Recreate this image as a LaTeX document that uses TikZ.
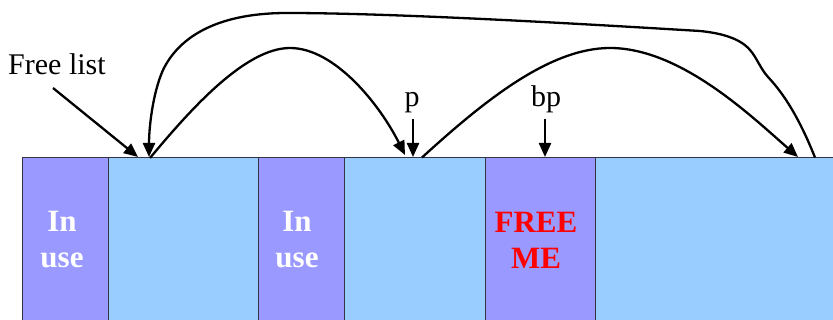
\documentclass[tikz,border=0pt]{standalone}
\usepackage{fontspec}
\setmainfont{Liberation Serif}
\usetikzlibrary{arrows.meta}
\definecolor{usedc}{HTML}{9999FF}
\definecolor{freec}{HTML}{99CCFF}
\definecolor{edgec}{HTML}{333344}
\tikzset{
  blk/.style={draw=edgec, line width=1pt, anchor=north west, minimum height=200pt, inner sep=0pt, outer sep=0pt},
  usedblk/.style={blk, fill=usedc},
  freeblk/.style={blk, fill=freec},
  intext/.style={anchor=base, inner sep=0pt, font=\bfseries\fontsize{31}{36}\selectfont, text=white},
  redtext/.style={intext, text=red},
  lbl/.style={inner sep=0pt, font=\fontsize{30}{34}\selectfont},
  arr/.style={line width=2.3pt, -{Triangle[length=14pt,width=12pt]}},
}
\begin{document}
\begin{tikzpicture}[x=1pt,y=-1pt]
\useasboundingbox (0,0) rectangle (833,320);
\clip (0,0) rectangle (833,320);
% memory blocks
\node[usedblk, minimum width=86pt] (u1) at (22,157.5) {};
\node[freeblk, minimum width=150pt] (f1) at (108,157.5) {};
\node[usedblk, minimum width=86pt] (u2) at (258,157.5) {};
\node[freeblk, minimum width=141pt] (f2) at (344,157.5) {};
\node[usedblk, minimum width=110pt] (fm) at (485,157.5) {};
\node[freeblk, minimum width=250pt] (f3) at (595,157.5) {};
% texts in blocks
\node[intext] (u1a) at (62,231.7) {In};
\node[intext] (u1b) at (62,268) {use};
\node[intext] (u2a) at (297,231.7) {In};
\node[intext] (u2b) at (297,268) {use};
\node[redtext] (fma) at (536,232.7) {FREE};
\node[redtext] (fmb) at (536,269) {ME};
% labels
\node[lbl, anchor=base west] (fl) at (8,75) {Free list};
\node[lbl, anchor=base] (plab) at (412,107) {p};
\node[lbl, anchor=base] (bplab) at (546,107) {bp};
% anchor points on top edge
\coordinate (flstart) at (53,88);
\coordinate (flend) at (138,157);
\coordinate (ptop) at (413,119);
\coordinate (pend) at (413,157);
\coordinate (bptop) at (545,119);
\coordinate (bpend) at (545,157);
\coordinate (c1s) at (815,157.5);
\coordinate (c1e) at (149,157);
\coordinate (c2s) at (150,158);
\coordinate (c2e) at (405,155);
\coordinate (c3s) at (422,157.5);
\coordinate (c3e) at (798,157);
% pointers
\draw[arr] (flstart) -- (flend);
\draw[arr] (ptop) -- (pend);
\draw[arr] (bptop) -- (bpend);
% big loop
\draw[arr] (c1s) .. controls (800,120) and (785,95) .. (768,77)
  .. controls (760,68) and (757,58) .. (750,50)
  .. controls (740,38) and (720,33) .. (700,31)
  .. controls (600,25) and (400,13) .. (287,13)
  .. controls (220,13) and (180,35) .. (163,70)
  .. controls (152,95) and (149,130) .. (c1e);
% free1 -> free2
\draw[arr] (c2s) .. controls (190,110) and (245,48) .. (290,48)
  .. controls (335,48) and (380,105) .. (c2e);
% free2 -> free3
\draw[arr] (c3s) .. controls (485,100) and (550,48) .. (610,48)
  .. controls (680,48) and (750,115) .. (c3e);
\end{tikzpicture}
\end{document}
